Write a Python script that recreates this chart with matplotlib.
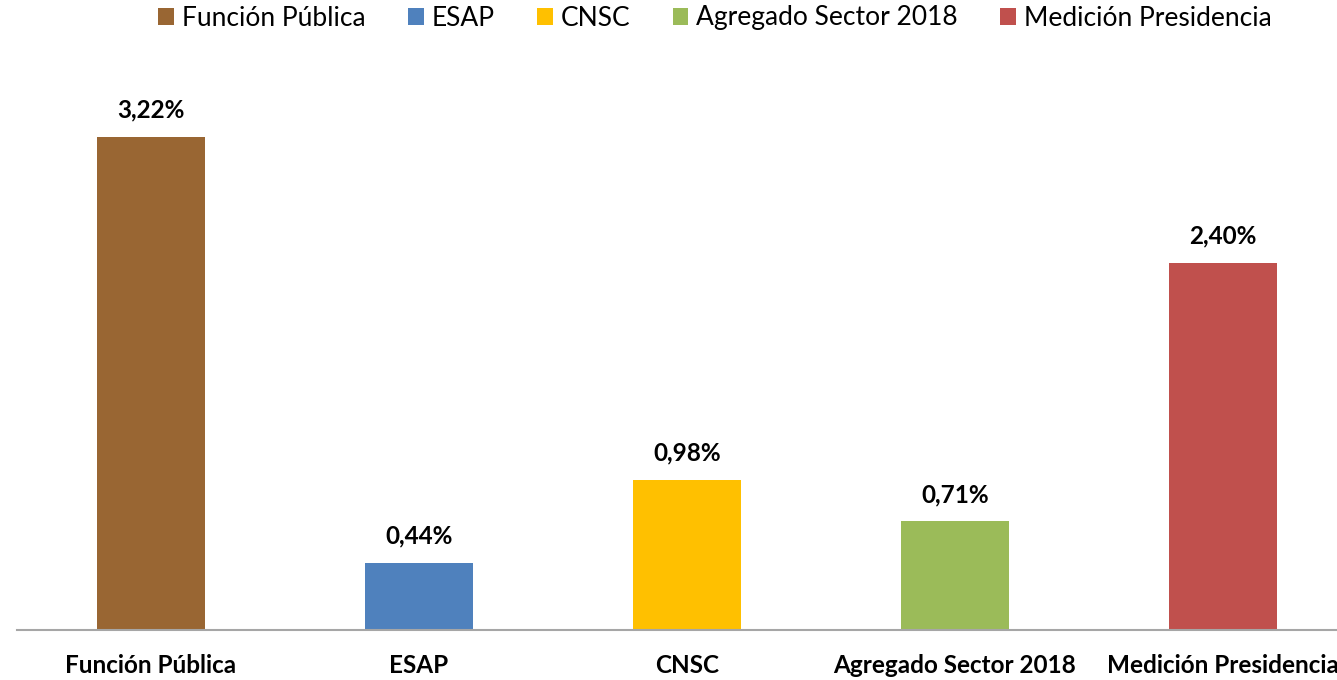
import matplotlib
matplotlib.use("Agg")
import matplotlib.pyplot as plt
from matplotlib.patches import Patch

categories = ["Función Pública", "ESAP", "CNSC", "Agregado Sector 2018", "Medición Presidencia"]
values = [3.22, 0.44, 0.98, 0.71, 2.40]
value_labels = ["3,22%", "0,44%", "0,98%", "0,71%", "2,40%"]
colors = ["#996633", "#4F81BD", "#FFC000", "#9BBB59", "#C0504D"]

plt.rcParams['font.family'] = ['Lato', 'DejaVu Sans']

fig = plt.figure(figsize=(13.37, 6.80), dpi=100)
ax = fig.add_axes([17/1337, 50/680, 1340/1337, 580/680])

x = list(range(len(categories)))
ax.bar(x, values, width=0.403, color=colors, zorder=2)
ax.set_xlim(-0.5, len(categories) - 0.5)
ax.set_ylim(0, 580/153.1)

for xi, v, lab in zip(x, values, value_labels):
    ax.annotate(lab, (xi, v), xytext=(0, 11), textcoords='offset points',
                ha='center', va='bottom', fontsize=17.5, fontweight='bold', color='black')

ax.set_xticks(x)
ax.set_xticklabels(categories, fontsize=17.5, fontweight='bold')
ax.tick_params(axis='x', length=0, pad=17)
ax.set_yticks([])
for s in ['top', 'right', 'left']:
    ax.spines[s].set_visible(False)
ax.spines['bottom'].set_color('#A6A6A6')
ax.spines['bottom'].set_linewidth(1.5)

handles = [Patch(facecolor=c, label=l) for c, l in zip(colors, categories)]
fig.legend(handles=handles, loc='center', bbox_to_anchor=(715/1337, 1 - 18/680), ncol=5,
           frameon=False, fontsize=19, handlelength=0.6, handleheight=0.6,
           handletextpad=0.3, columnspacing=1.6)

fig.savefig("out.png", dpi=100)
